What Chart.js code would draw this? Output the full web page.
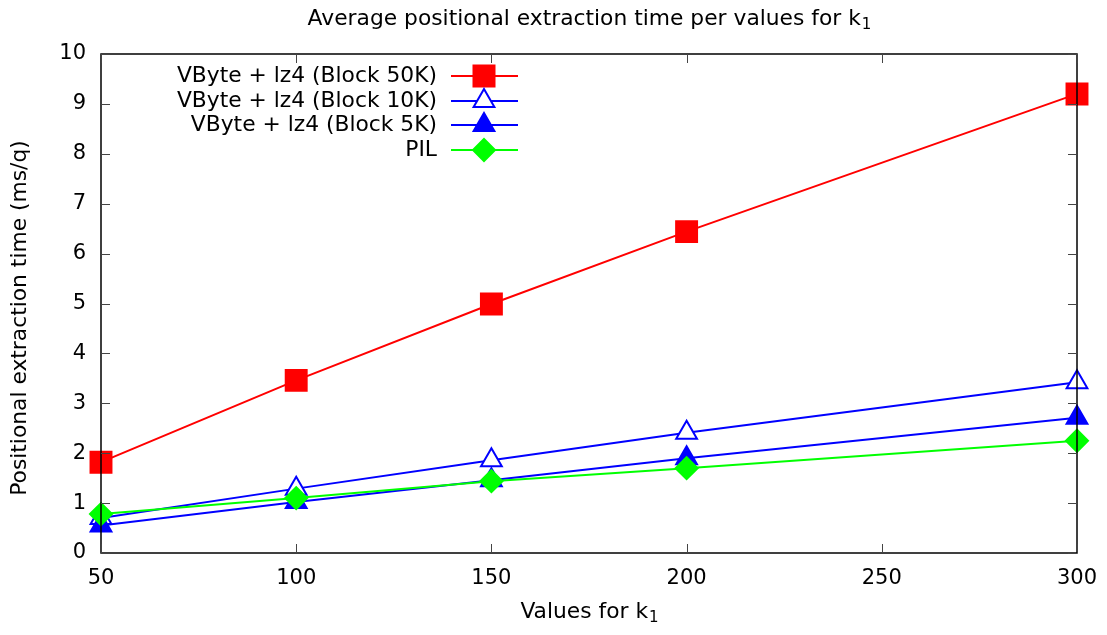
<!DOCTYPE html>
<html>
<head>
<meta charset="utf-8">
<script src="https://cdn.jsdelivr.net/npm/chart.js@4/dist/chart.umd.min.js"></script>
<style>
  html, body { margin: 0; padding: 0; background: #fff; }
  #wrap { width: 1107px; height: 635px; }
</style>
</head>
<body>
<div id="wrap"><canvas id="myChart" width="1107" height="635"></canvas></div>
<script>
const kValues = [50, 100, 150, 200, 300];
const block50k = [1.82, 3.46, 4.99, 6.44, 9.2];
const block10k = [0.7, 1.29, 1.86, 2.41, 3.42];
const block5k = [0.55, 1.02, 1.46, 1.9, 2.71];
const pil = [0.78, 1.1, 1.44, 1.7, 2.25];

const xTicks = [50, 100, 150, 200, 250, 300];
const yTicks = [0, 1, 2, 3, 4, 5, 6, 7, 8, 9, 10];

const FONT = "'DejaVu Sans', sans-serif";
const FS = 21.8;

function pts(vals) {
  return kValues.map((k, i) => ({ x: k, y: vals[i] }));
}

const series = [
  { label: "VByte + lz4 (Block 50K)", data: block50k, color: "#ff0000", style: "rect", radius: 14.8, fill: "#ff0000" },
  { label: "VByte + lz4 (Block 10K)", data: block10k, color: "#0000ff", style: "triangle", radius: 12, fill: "#ffffff" },
  { label: "VByte + lz4 (Block 5K)", data: block5k, color: "#0000ff", style: "triangle", radius: 12, fill: "#0000ff" },
  { label: "PIL", data: pil, color: "#00ff00", style: "rectRot", radius: 11, fill: "#00ff00" }
];

// text with a subscript tail, centred on cx
function subText(ctx, main, sub, cx, cy) {
  ctx.font = FS + "px " + FONT;
  const w1 = ctx.measureText(main).width;
  ctx.font = "15px " + FONT;
  const w2 = ctx.measureText(sub).width;
  const x0 = cx - (w1 + w2) / 2;
  ctx.textAlign = "left";
  ctx.font = FS + "px " + FONT;
  ctx.fillText(main, x0, cy);
  ctx.font = "15px " + FONT;
  ctx.fillText(sub, x0 + w1 + 1, cy + 6);
}

// border, inward ticks, titles and legend
const framePlugin = {
  id: "frame",
  afterDraw(chart) {
    const ctx = chart.ctx;
    const a = chart.chartArea;
    const xs = chart.scales.x;
    const ys = chart.scales.y;
    ctx.save();
    ctx.strokeStyle = "#000";
    ctx.lineWidth = 1.5;
    ctx.strokeRect(a.left, a.top, a.right - a.left, a.bottom - a.top);
    ctx.lineWidth = 1;
    ctx.strokeStyle = "#444";
    const t = 9;
    ctx.beginPath();
    xTicks.forEach(v => {
      const px = Math.round(xs.getPixelForValue(v)) + 0.5;
      ctx.moveTo(px, a.bottom); ctx.lineTo(px, a.bottom - t);
      ctx.moveTo(px, a.top); ctx.lineTo(px, a.top + t);
    });
    yTicks.forEach(v => {
      const py = Math.round(ys.getPixelForValue(v)) + 0.5;
      ctx.moveTo(a.left, py); ctx.lineTo(a.left + t, py);
      ctx.moveTo(a.right, py); ctx.lineTo(a.right - t, py);
    });
    ctx.stroke();

    ctx.fillStyle = "#000";
    ctx.textBaseline = "middle";
    const cx = (a.left + a.right) / 2;
    subText(ctx, "Average positional extraction time per values for k", "1", cx, 19);
    subText(ctx, "Values for k", "1", cx, 612);

    ctx.save();
    ctx.translate(20, 318);
    ctx.rotate(-Math.PI / 2);
    ctx.font = FS + "px " + FONT;
    ctx.textAlign = "center";
    ctx.fillText("Positional extraction time (ms/q)", 0, 0);
    ctx.restore();

    // legend
    const rowY = [76, 101, 125, 150];
    series.forEach((s, i) => {
      const y = rowY[i];
      ctx.font = FS + "px " + FONT;
      ctx.textAlign = "right";
      ctx.fillStyle = "#000";
      ctx.fillText(s.label, 437, y);
      ctx.strokeStyle = s.color;
      ctx.lineWidth = 2;
      ctx.beginPath();
      ctx.moveTo(451, y); ctx.lineTo(518, y);
      ctx.stroke();
      ctx.fillStyle = s.fill;
      ctx.beginPath();
      if (s.style === "rect") {
        ctx.rect(484 - 10.5, y - 10.5, 21, 21);
      } else if (s.style === "triangle") {
        const r = s.radius;
        ctx.moveTo(484, y - r);
        ctx.lineTo(484 + r * 0.866, y + r / 2);
        ctx.lineTo(484 - r * 0.866, y + r / 2);
        ctx.closePath();
      } else {
        const r = s.radius;
        ctx.moveTo(484, y - r);
        ctx.lineTo(484 + r, y);
        ctx.lineTo(484, y + r);
        ctx.lineTo(484 - r, y);
        ctx.closePath();
      }
      ctx.fill();
      ctx.stroke();
    });
    ctx.restore();
  }
};

let chart;

function initChart() {
  const ctx = document.getElementById("myChart");

  chart = new Chart(ctx, {
    type: "line",
    data: {
      datasets: series.map((s, i) => ({
        label: s.label,
        data: pts(s.data),
        borderColor: s.color,
        backgroundColor: s.fill,
        pointBackgroundColor: s.fill,
        pointBorderColor: s.color,
        pointBorderWidth: 2,
        pointStyle: s.style,
        pointRadius: s.radius,
        pointHoverRadius: s.radius,
        borderWidth: 2,
        tension: 0,
        clip: false,
        order: 3 - i
      }))
    },
    plugins: [framePlugin],
    options: {
      responsive: false,
      animation: false,
      layout: { padding: { top: 54, right: 30, left: 0, bottom: 0 } },
      plugins: {
        legend: { display: false },
        tooltip: { enabled: false },
        title: { display: false }
      },
      scales: {
        x: {
          type: "linear",
          min: 50,
          max: 300,
          afterFit(scale) {
            scale.height = 82;
            scale.paddingLeft = 0;
            scale.paddingRight = 0;
          },
          afterBuildTicks(scale) { scale.ticks = xTicks.map(v => ({ value: v })); },
          grid: { display: false, drawTicks: false },
          border: { display: false },
          ticks: { color: "#000", font: { family: FONT, size: 21 }, padding: 13, maxRotation: 0 }
        },
        y: {
          type: "linear",
          min: 0,
          max: 10,
          afterFit(scale) {
            scale.width = 101;
            scale.paddingTop = 0;
            scale.paddingBottom = 0;
          },
          afterBuildTicks(scale) { scale.ticks = yTicks.map(v => ({ value: v })); },
          grid: { display: false, drawTicks: false },
          border: { display: false },
          ticks: { color: "#000", font: { family: FONT, size: 21 }, padding: 15 }
        }
      }
    }
  });
}

window.onload = () => {
  initChart();
};
</script>
</body>
</html>
